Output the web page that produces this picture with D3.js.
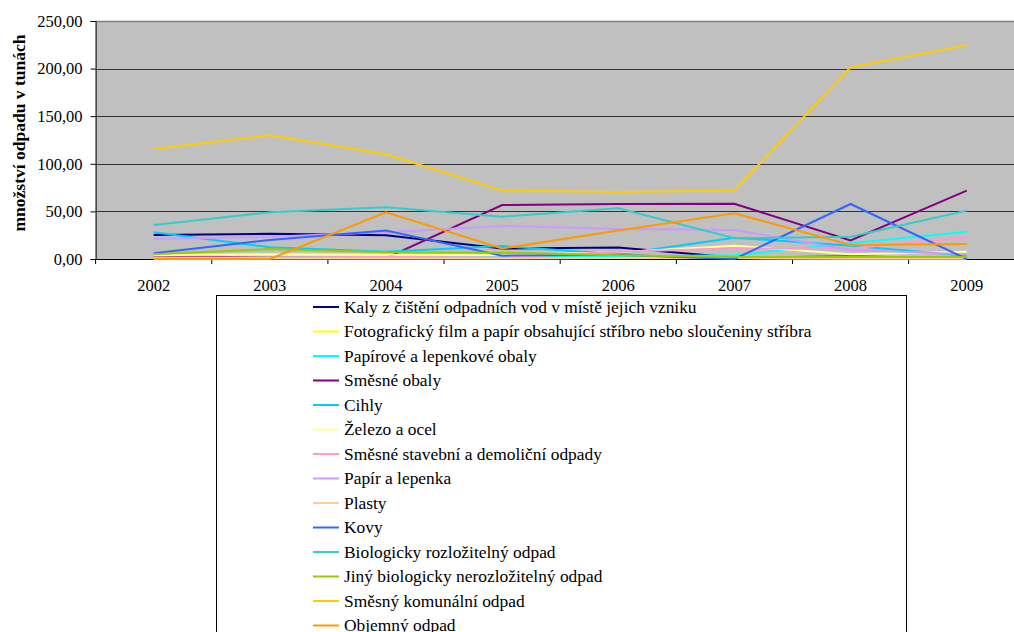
<!DOCTYPE html>
<html>
<head>
<meta charset="utf-8">
<script src="https://cdn.jsdelivr.net/npm/d3@7"></script>
<style>
  html, body { margin: 0; padding: 0; background: #fff; overflow: hidden; }
  svg { display: block; }
  svg text { font-family: "Liberation Serif", "Times New Roman", Times, "DejaVu Serif", serif; fill: #000; }
</style>
</head>
<body>
<svg id="chart" width="1014" height="632"></svg>
<script>
// Years on the category axis
const years = ["2002", "2003", "2004", "2005", "2006", "2007", "2008", "2009"];

// Waste quantities (tonnes) per category
const kaly          = [25.2, 26.5, 25.0, 11.0, 12.0, 1.5, 2.5, 1.0];
const fotoFilm      = [3.0, 4.0, 3.5, 2.5, 2.0, 1.0, 0.5, 0.5];
const papiroveObaly = [2.0, 1.5, 1.5, 2.0, 2.5, 4.0, 16.5, 28.7];
const smesneObaly   = [3.5, 1.4, 1.0, 56.7, 57.8, 58.0, 19.5, 71.8];
const cihly         = [28.0, 12.3, 7.7, 13.6, 5.0, 22.4, 14.0, 3.5];
const zelezo        = [4.0, 5.0, 4.5, 4.0, 7.0, 14.0, 5.0, 7.7];
const stavebni      = [1.5, 1.5, 2.0, 1.5, 7.5, 11.0, 11.0, 22.8];
const papir         = [21.0, 23.5, 28.0, 34.7, 31.5, 30.5, 9.5, 5.0];
const plasty        = [0.5, 0.5, 0.5, 0.5, 1.0, 1.0, 0.5, 0.5];
const kovy          = [6.0, 20.0, 30.0, 3.5, 4.5, 0.0, 57.8, 0.0];
const bioRozl       = [35.7, 49.0, 54.3, 44.5, 53.2, 21.7, 23.4, 50.8];
const jinyBio       = [5.0, 10.5, 7.0, 6.6, 4.0, 2.0, 2.0, 2.0];
const komunalni     = [115.5, 130.0, 110.0, 72.0, 70.5, 72.0, 201.5, 224.5];
const objemny       = [0.0, 0.0, 49.0, 11.0, 30.0, 48.0, 14.7, 15.8];

const seriesNames = [
  "Kaly z čištění odpadních vod v místě jejich vzniku",
  "Fotografický film a papír obsahující stříbro nebo sloučeniny stříbra",
  "Papírové a lepenkové obaly",
  "Směsné obaly",
  "Cihly",
  "Železo a ocel",
  "Směsné stavební a demoliční odpady",
  "Papír a lepenka",
  "Plasty",
  "Kovy",
  "Biologicky rozložitelný odpad",
  "Jiný biologicky nerozložitelný odpad",
  "Směsný komunální odpad",
  "Objemný odpad"
];
const seriesColors = [
  "#000080", "#FFFF00", "#00FFFF", "#800080", "#00CCFF", "#FFFF99", "#FF99CC",
  "#CC99FF", "#FFCC99", "#3366FF", "#33CCCC", "#99CC00", "#FFCC00", "#FF9900"
];
const seriesValues = [
  kaly, fotoFilm, papiroveObaly, smesneObaly, cihly, zelezo, stavebni,
  papir, plasty, kovy, bioRozl, jinyBio, komunalni, objemny
];

const yTicks = [0, 50, 100, 150, 200, 250];
const yTitle = "množství odpadu v tunách";

const series = seriesNames.map((name, i) => ({
  name, color: seriesColors[i], values: seriesValues[i]
}));

const svg = d3.select("#chart");

// Plot area geometry
const plot = { left: 95.6, top: 21, bandW: 116.15, height: 238 };
plot.right = plot.left + plot.bandW * years.length;
plot.bottom = plot.top + plot.height;

const x = d3.scaleBand().domain(years).range([plot.left, plot.right]).padding(0);
const xc = d => x(d) + x.bandwidth() / 2;
const y = d3.scaleLinear().domain([0, 250]).range([plot.bottom, plot.top]);

// Background
svg.append("rect")
  .attr("x", plot.left).attr("y", plot.top)
  .attr("width", plot.right - plot.left).attr("height", plot.height)
  .attr("fill", "#C0C0C0");

// Gridlines
svg.append("g")
  .selectAll("line")
  .data(yTicks.filter(t => t > 0 && t < 250))
  .join("line")
  .attr("x1", plot.left).attr("x2", plot.right)
  .attr("y1", d => Math.round(y(d)) + 0.5).attr("y2", d => Math.round(y(d)) + 0.5)
  .attr("stroke", "#333").attr("stroke-width", 1);

// Top border of plot area
svg.append("line")
  .attr("x1", plot.left).attr("x2", plot.right)
  .attr("y1", plot.top + 0.5).attr("y2", plot.top + 0.5)
  .attr("stroke", "#808080").attr("stroke-width", 1.5);

// Y axis
const yAxis = d3.axisLeft(y)
  .tickValues(yTicks)
  .tickSize(5)
  .tickPadding(8)
  .tickFormat(d => d3.format(".2f")(d).replace(".", ","));
const gy = svg.append("g")
  .attr("transform", `translate(${plot.left},0)`)
  .call(yAxis);
gy.attr("font-family", null).attr("font-size", null);
gy.select(".domain").attr("stroke", "#000");
gy.selectAll(".tick line").attr("stroke", "#000");
gy.selectAll(".tick text").style("font-size", "16.5px").attr("fill", "#000");

// X axis: ticks at category boundaries, labels centered
const gx = svg.append("g");
gx.append("line")
  .attr("x1", plot.left).attr("x2", plot.right)
  .attr("y1", plot.bottom + 0.5).attr("y2", plot.bottom + 0.5)
  .attr("stroke", "#000");
gx.selectAll("line.tk")
  .data(d3.range(years.length + 1))
  .join("line").attr("class", "tk")
  .attr("x1", i => plot.left + i * x.bandwidth())
  .attr("x2", i => plot.left + i * x.bandwidth())
  .attr("y1", plot.bottom).attr("y2", plot.bottom + 5)
  .attr("stroke", "#000");
gx.selectAll("text")
  .data(years)
  .join("text")
  .attr("x", d => xc(d))
  .attr("y", plot.bottom + 32)
  .attr("text-anchor", "middle")
  .style("font-size", "16.5px")
  .text(d => d);

// Y axis title
svg.append("text")
  .attr("transform", `translate(25,${(plot.top + plot.bottom) / 2 - 7}) rotate(-90)`)
  .attr("text-anchor", "middle")
  .style("font-weight", "bold")
  .style("font-size", "17.5px")
  .text(yTitle);

// Series lines
const line = d3.line()
  .x((d, i) => xc(years[i]))
  .y(d => y(d));
svg.append("g")
  .selectAll("path")
  .data(series)
  .join("path")
  .attr("d", s => line(s.values))
  .attr("fill", "none")
  .attr("stroke", s => s.color)
  .attr("stroke-width", 2)
  .attr("stroke-linejoin", "miter");

// Legend
const legend = { left: 216.5, top: 295.5, width: 690, rowH: 24.5, firstRow: 307 };
svg.append("rect")
  .attr("x", legend.left).attr("y", legend.top)
  .attr("width", legend.width).attr("height", 400)
  .attr("fill", "#fff").attr("stroke", "#000").attr("stroke-width", 1);
const items = svg.append("g")
  .selectAll("g")
  .data(series)
  .join("g")
  .attr("transform", (d, i) => `translate(0,${legend.firstRow + i * legend.rowH})`);
items.append("line")
  .attr("x1", 313).attr("x2", 339)
  .attr("y1", 0).attr("y2", 0)
  .attr("stroke", d => d.color).attr("stroke-width", 2);
items.append("text")
  .attr("x", 344).attr("y", 5.5)
  .style("font-size", "17.4px")
  .text(d => d.name);
</script>
</body>
</html>
